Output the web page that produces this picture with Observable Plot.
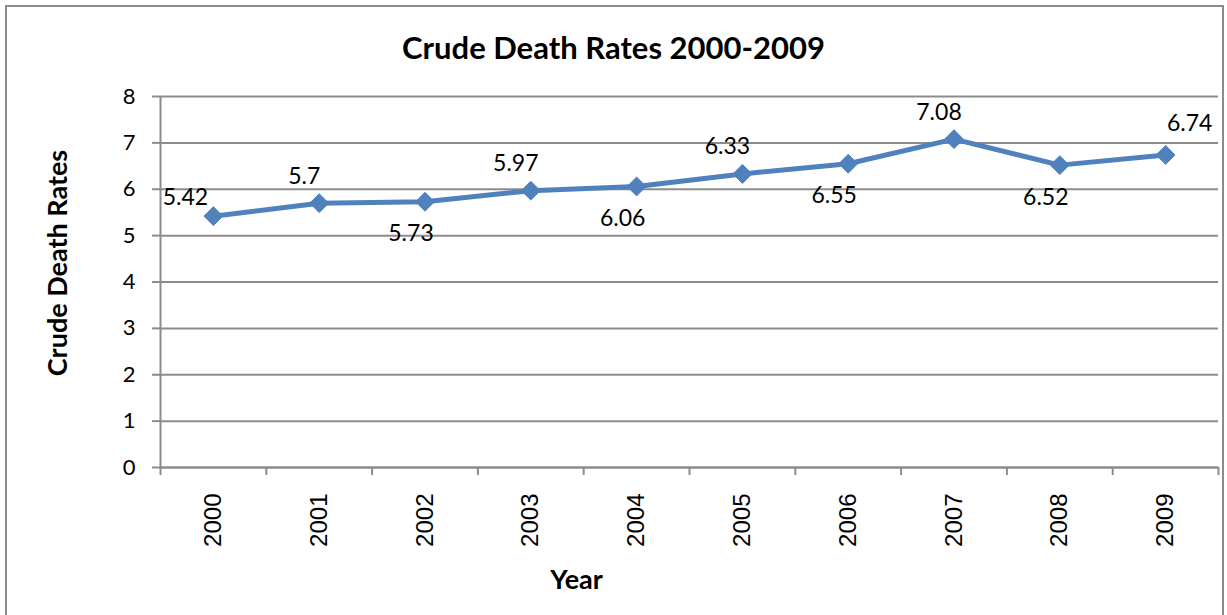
<!DOCTYPE html>
<html>
<head>
<meta charset="utf-8">
<script src="https://cdn.jsdelivr.net/npm/d3@7"></script>
<script src="https://cdn.jsdelivr.net/npm/@observablehq/plot@0.6"></script>
<style>
  html, body { margin: 0; padding: 0; background: #fff; }
  #wrap { position: relative; width: 1227px; height: 615px; overflow: hidden; background: #fff; }
  #border { position: absolute; left: 5px; top: 5px; width: 1215px; height: 700px; border: 2px solid #8c8c8c; box-sizing: content-box; }
  #title { position: absolute; left: 0; top: 27px; width: 1227px; text-align: center; font-family: Lato, "Open Sans", sans-serif; font-weight: bold; font-size: 31px; color: #000; line-height: 40px; }
  #chart { position: absolute; left: 0; top: 0; }
</style>
</head>
<body>
<div id="wrap">
  <div id="border"></div>
  <div id="chart"></div>
  <div id="title">Crude Death Rates 2000-2009</div>
</div>
<script>
// ---- data ----
const years = [2000, 2001, 2002, 2003, 2004, 2005, 2006, 2007, 2008, 2009];
const rates = [5.42, 5.7, 5.73, 5.97, 6.06, 6.33, 6.55, 7.08, 6.52, 6.74];
const yTicks = [0, 1, 2, 3, 4, 5, 6, 7, 8];
const labelSide = ["upleft", "above", "below", "above", "below", "above", "below", "above", "below", "upright"];

// ---- build ----
const data = years.map((y, i) => ({year: y, rate: rates[i], side: labelSide[i]}));
const bounds = years.map(y => y - 0.5).concat([years[years.length - 1] + 0.5]);
const blue = "#4F81BD";
const grid = "#8c8c8c";
const calib = "Lato, 'Open Sans', sans-serif";
const lblStyle = {fontSize: 23, fontFamily: calib, fill: "#000", textAnchor: "middle", lineAnchor: "middle"};

const chart = Plot.plot({
  width: 1227,
  height: 615,
  marginTop: 96,
  marginRight: 9,
  marginBottom: 148,
  marginLeft: 160,
  style: {background: "transparent", overflow: "visible"},
  x: {type: "linear", domain: [bounds[0], bounds[bounds.length - 1]]},
  y: {domain: [0, 8]},
  marks: [
    Plot.ruleY(yTicks, {y: d => d, x1: bounds[0], x2: bounds[bounds.length - 1], stroke: grid, strokeWidth: 2}),
    Plot.axisY({ticks: yTicks, tickSize: 8, tickPadding: 17, stroke: grid, strokeWidth: 2, fontSize: 22, fontFamily: calib, label: null, color: "#000"}),
    Plot.axisX({ticks: bounds, tickSize: 8, tickFormat: () => "", stroke: grid, strokeWidth: 2, label: null}),
    Plot.axisX({ticks: years, tickSize: 0, tickPadding: 26, tickRotate: -90, tickFormat: d => String(d), fontSize: 24, fontFamily: "'Liberation Sans', Arial, sans-serif", label: null, color: "#000"}),
    Plot.ruleX([bounds[0]], {stroke: grid, strokeWidth: 2}),
    Plot.ruleY([0], {stroke: grid, strokeWidth: 2}),
    Plot.line(data, {x: "year", y: "rate", stroke: blue, strokeWidth: 5, strokeLinejoin: "round"}),
    Plot.dot(data, {x: "year", y: "rate", symbol: "diamond2", r: 8.5, fill: blue, stroke: blue, strokeWidth: 1}),
    Plot.text(data.filter(d => d.side === "above"), {x: "year", y: "rate", text: d => String(d.rate), dx: -15, dy: -27, ...lblStyle}),
    Plot.text(data.filter(d => d.side === "below"), {x: "year", y: "rate", text: d => String(d.rate), dx: -14, dy: 32, ...lblStyle}),
    Plot.text(data.filter(d => d.side === "upleft"), {x: "year", y: "rate", text: d => String(d.rate), dx: -28, dy: -19, ...lblStyle}),
    Plot.text(data.filter(d => d.side === "upright"), {x: "year", y: "rate", text: d => String(d.rate), dx: 24, dy: -31, ...lblStyle}),
    Plot.text(["Crude Death Rates"], {frameAnchor: "left", rotate: -90, dx: -102, dy: -19, fontSize: 27, fontWeight: "bold", fontFamily: calib, fill: "#000", textAnchor: "middle", lineAnchor: "middle"}),
    Plot.text(["Year"], {frameAnchor: "bottom", dx: -113, dy: 113, fontSize: 27, fontWeight: "bold", fontFamily: calib, fill: "#000", textAnchor: "middle", lineAnchor: "middle"})
  ]
});
document.getElementById("chart").appendChild(chart);
</script>
</body>
</html>
